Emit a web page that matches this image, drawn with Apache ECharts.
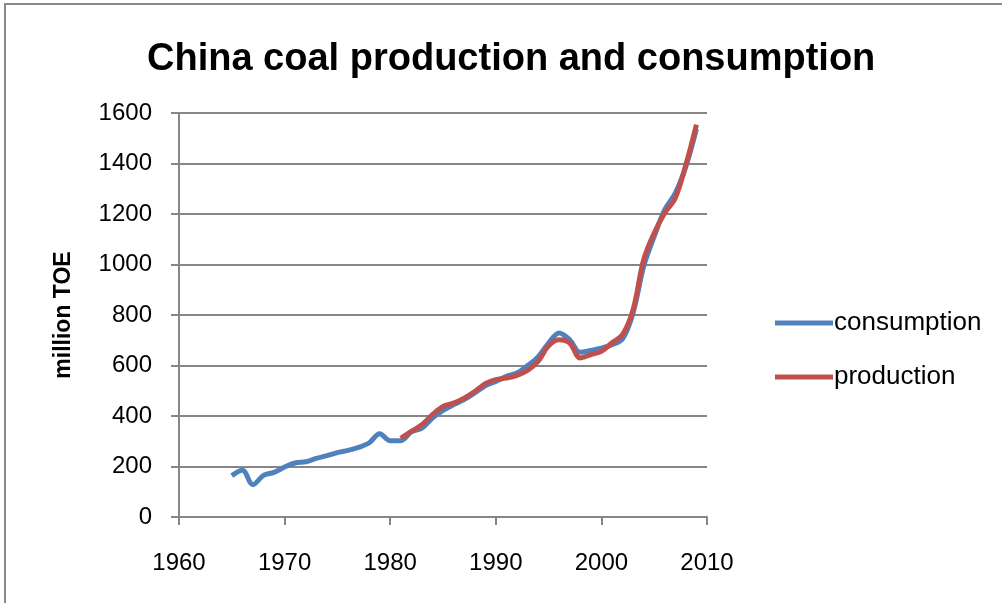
<!DOCTYPE html>
<html><head><meta charset="utf-8">
<script src="https://cdn.jsdelivr.net/npm/echarts@6/dist/echarts.min.js"></script>
<style>html,body{margin:0;padding:0;background:#fff}#c{width:1002px;height:603px}</style>
</head><body><div id="c"></div>
<script>
const titleText = 'China coal production and consumption';
const yAxisName = 'million TOE';
const consYears = [1965,1966,1967,1968,1969,1970,1971,1972,1973,1974,1975,1976,1977,1978,1979,1980,1981,1982,1983,1984,1985,1986,1987,1988,1989,1990,1991,1992,1993,1994,1995,1996,1997,1998,1999,2000,2001,2002,2003,2004,2005,2006,2007,2008,2009];
const consumption = [164,185,128,165,177,198,214,219,232,243,255,264,276,293,330,302,302,337,352,392,422,445,465,491,520,537,557,570,599,634,689,729,702,652,660,669,682,705,808,992,1111,1217,1283,1388,1537];
const prodYears = [1981,1982,1983,1984,1985,1986,1987,1988,1989,1990,1991,1992,1993,1994,1995,1996,1997,1998,1999,2000,2001,2002,2003,2004,2005,2006,2007,2008,2009];
const production = [312,339,365,405,438,451,471,497,528,544,550,561,581,616,678,702,689,630,643,656,690,722,821,1019,1125,1204,1263,1395,1554];
const seriesNames = ['consumption','production'];

const chart = echarts.init(document.getElementById('c'), null, {renderer:'canvas'});
const font = 'Liberation Sans';
chart.setOption({
  animation:false,
  backgroundColor:'#fff',
  title:{text:titleText,left:147,top:41,padding:0,textStyle:{fontFamily:font,fontWeight:'bold',fontSize:38,color:'#000'}},
  legend:{orient:'vertical',left:775,top:310,padding:0,itemWidth:58,itemHeight:5,itemGap:28,icon:'rect',
    textStyle:{fontFamily:font,fontSize:26,color:'#000',padding:[0,0,0,-4]},data:seriesNames},
  grid:{left:179,right:295,top:113,bottom:86},
  xAxis:{type:'value',min:1960,max:2010,interval:10,
    axisLine:{lineStyle:{color:'#868686',width:2}},
    axisTick:{show:true,length:8,lineStyle:{color:'#868686',width:2}},
    axisLabel:{fontFamily:font,fontSize:24,color:'#000',margin:34,formatter:v=>String(v)},
    splitLine:{show:false}},
  yAxis:{type:'value',min:0,max:1600,interval:200,name:yAxisName,nameLocation:'middle',nameGap:104,
    nameTextStyle:{fontFamily:font,fontWeight:'bold',fontSize:23,color:'#000'},
    axisLine:{show:true,lineStyle:{color:'#868686',width:2}},
    axisTick:{show:true,length:8,lineStyle:{color:'#868686',width:2}},
    axisLabel:{fontFamily:font,fontSize:24,color:'#000',margin:27,formatter:v=>String(v)},
    splitLine:{lineStyle:{color:'#868686',width:2}}},
  series:[
    {name:seriesNames[0],type:'line',smooth:0.35,showSymbol:false,symbol:'none',
     data:consYears.map((y,i)=>[y,consumption[i]]),lineStyle:{color:'#4F81BD',width:5},itemStyle:{color:'#4F81BD'}},
    {name:seriesNames[1],type:'line',smooth:0.35,showSymbol:false,symbol:'none',
     data:prodYears.map((y,i)=>[y,production[i]]),lineStyle:{color:'#C0504D',width:5},itemStyle:{color:'#C0504D'}}
  ],
  graphic:[
    {type:'rect',shape:{x:5,y:4,width:1010,height:620},style:{fill:'none',stroke:'#8a8a8a',lineWidth:2},silent:true}
  ]
});
</script></body></html>
